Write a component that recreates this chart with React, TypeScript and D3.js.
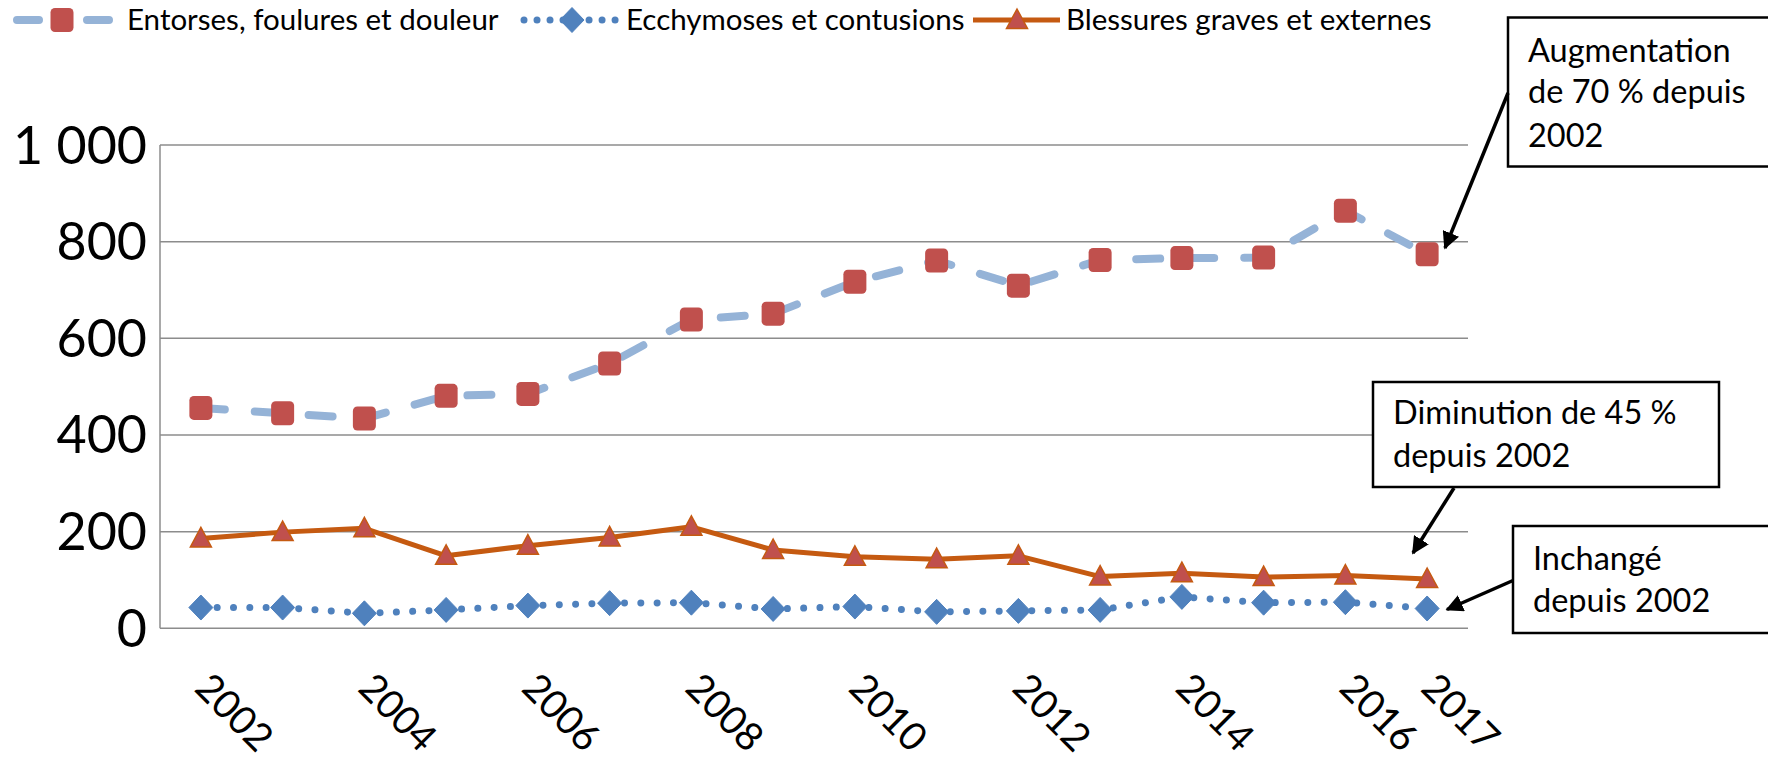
import React from "react";
import * as d3 from "d3";

const years = ["2002","2003","2004","2005","2006","2007","2008","2009","2010","2011","2012","2013","2014","2015","2016","2017"];
const yearLabels = ["2002","2004","2006","2008","2010","2012","2014","2016","2017"];
const entorses = [456,445,434,481,485,548,639,651,717,761,709,762,766,767,864,774];
const ecchymoses = [43,43,31,38,47,52,53,40,45,34,36,38,65,53,54,41];
const blessures = [186,199,207,150,171,188,210,162,148,143,150,107,114,106,109,102];
const yTicks = [0,200,400,600,800,1000];
const seriesNames = ["Entorses, foulures et douleur","Ecchymoses et contusions","Blessures graves et externes"];
const notes = [
  ["Augmentation","de 70 % depuis","2002"],
  ["Diminution de 45 %","depuis 2002"],
  ["Inchangé","depuis 2002"],
];

const W = 1768, H = 763;
const FONT = "Lato, 'Open Sans', sans-serif";
const RED = "#C0504D", LBLUE = "#95B3D7", BLUE = "#4F81BD", ORANGE = "#C55A11", GRID = "#8C8C8C";

function fmt(v: number) {
  const s = String(v);
  return s.length > 3 ? s.slice(0, s.length - 3) + "\u00a0" + s.slice(-3) : s;
}

function Square({ x, y }: { x: number; y: number }) {
  return <rect x={x - 11.5} y={y - 12} width={23} height={24} rx={4.5} fill={RED} />;
}
function Diamond({ x, y }: { x: number; y: number }) {
  return <path d={`M${x},${y - 12.5}L${x + 12},${y}L${x},${y + 12.5}L${x - 12},${y}Z`} fill={BLUE} stroke={BLUE} strokeWidth={1} strokeLinejoin="round" />;
}
function Tri({ x, y }: { x: number; y: number }) {
  return <path d={`M${x},${y - 11}L${x + 10.5},${y + 8.5}L${x - 10.5},${y + 8.5}Z`} fill={RED} stroke={ORANGE} strokeWidth={1.5} strokeLinejoin="miter" />;
}

export default function App() {
  const x = d3.scaleBand<string>().domain(years).range([160, 1468]);
  const cx = (yr: string) => (x(yr) as number) + x.bandwidth() / 2;
  const y = d3.scaleLinear().domain([0, 1000]).range([628.3, 145]);
  const line = d3.line<number>().x((_, i) => cx(years[i])).y((d) => y(d));

  const legendY = 20;
  const legendItems = [
    { x0: 17, x1: 109, mx: 62, tx: 127 },
    { x0: 524, x1: 617, mx: 572, tx: 626 },
    { x0: 973, x1: 1060, mx: 1017, tx: 1066 },
  ];

  const arrows = [
    { x1: 1508, y1: 93, x2: 1445, y2: 248 },
    { x1: 1454, y1: 488, x2: 1413, y2: 553 },
    { x1: 1513, y1: 580.5, x2: 1447, y2: 609.5 },
  ];
  const boxes = [
    { x: 1508, y: 17.5, w: 280, h: 149, tx: 1528, base: [62, 103, 147] },
    { x: 1373, y: 382, w: 346, h: 105, tx: 1393, base: [424, 467] },
    { x: 1513, y: 526, w: 280, h: 107, tx: 1533, base: [570, 612] },
  ];

  return (
    <svg width={W} height={H} style={{ position: "absolute", left: 0, top: 0, background: "#fff" }} fontFamily={FONT}>
      <defs>
        <marker id="ah" viewBox="0 0 10 10" refX="9" refY="5" markerWidth="5" markerHeight="5" orient="auto" markerUnits="strokeWidth">
          <path d="M0,0L10,5L0,10Z" fill="#000" />
        </marker>
      </defs>
      <rect width={W} height={H} fill="#fff" />
      {yTicks.map((t) => (
        <line key={t} x1={160} x2={1468} y1={y(t)} y2={y(t)} stroke={GRID} strokeWidth={1.5} />
      ))}
      <line x1={160} x2={160} y1={y(1000)} y2={y(0)} stroke={GRID} strokeWidth={1.5} />
      {yTicks.map((t) => (
        <text key={t} x={147} y={y(t) + 18.5} textAnchor="end" fontSize={52} fill="#000">{fmt(t)}</text>
      ))}
      {yearLabels.map((yr) => {
        const px = cx(yr) - 8;
        const py = 690;
        return (
          <text key={yr} x={px} y={py} fontSize={39} fill="#000" transform={`rotate(45 ${px} ${py})`}>{yr}</text>
        );
      })}
      <path d={line(entorses) || ""} fill="none" stroke={LBLUE} strokeWidth={8} strokeDasharray="24 30" strokeLinecap="round" strokeLinejoin="round" />
      <path d={line(ecchymoses) || ""} fill="none" stroke={BLUE} strokeWidth={7} strokeDasharray="0.01 16.3" strokeLinecap="round" />
      <path d={line(blessures) || ""} fill="none" stroke={ORANGE} strokeWidth={5} strokeLinejoin="round" />
      {entorses.map((v, i) => <Square key={"s" + i} x={cx(years[i])} y={y(v)} />)}
      {ecchymoses.map((v, i) => <Diamond key={"d" + i} x={cx(years[i])} y={y(v)} />)}
      {blessures.map((v, i) => <Tri key={"t" + i} x={cx(years[i])} y={y(v)} />)}
      <line x1={legendItems[0].x0} x2={legendItems[0].x1} y1={legendY} y2={legendY} stroke={LBLUE} strokeWidth={8} strokeDasharray="22 48" strokeLinecap="round" />
      <Square x={legendItems[0].mx} y={legendY} />
      <line x1={legendItems[1].x0} x2={legendItems[1].x1} y1={legendY} y2={legendY} stroke={BLUE} strokeWidth={7} strokeDasharray="0.01 13" strokeLinecap="round" />
      <Diamond x={legendItems[1].mx} y={legendY} />
      <line x1={legendItems[2].x0} x2={legendItems[2].x1} y1={legendY} y2={legendY} stroke={ORANGE} strokeWidth={5} />
      <Tri x={legendItems[2].mx} y={legendY} />
      {seriesNames.map((n, i) => (
        <text key={n} x={legendItems[i].tx} y={legendY + 10} fontSize={29.5} fill="#000">{n}</text>
      ))}
      {boxes.map((b, i) => (
        <g key={"b" + i}>
          <rect x={b.x} y={b.y} width={b.w} height={b.h} fill="#fff" stroke="#000" strokeWidth={2.5} />
          {notes[i].map((ln, j) => (
            <text key={j} x={b.tx} y={b.base[j]} fontSize={32.5} fill="#000">{ln}</text>
          ))}
        </g>
      ))}
      {arrows.map((a, i) => (
        <line key={"a" + i} x1={a.x1} y1={a.y1} x2={a.x2} y2={a.y2} stroke="#000" strokeWidth={3.5} markerEnd="url(#ah)" />
      ))}
    </svg>
  );
}
